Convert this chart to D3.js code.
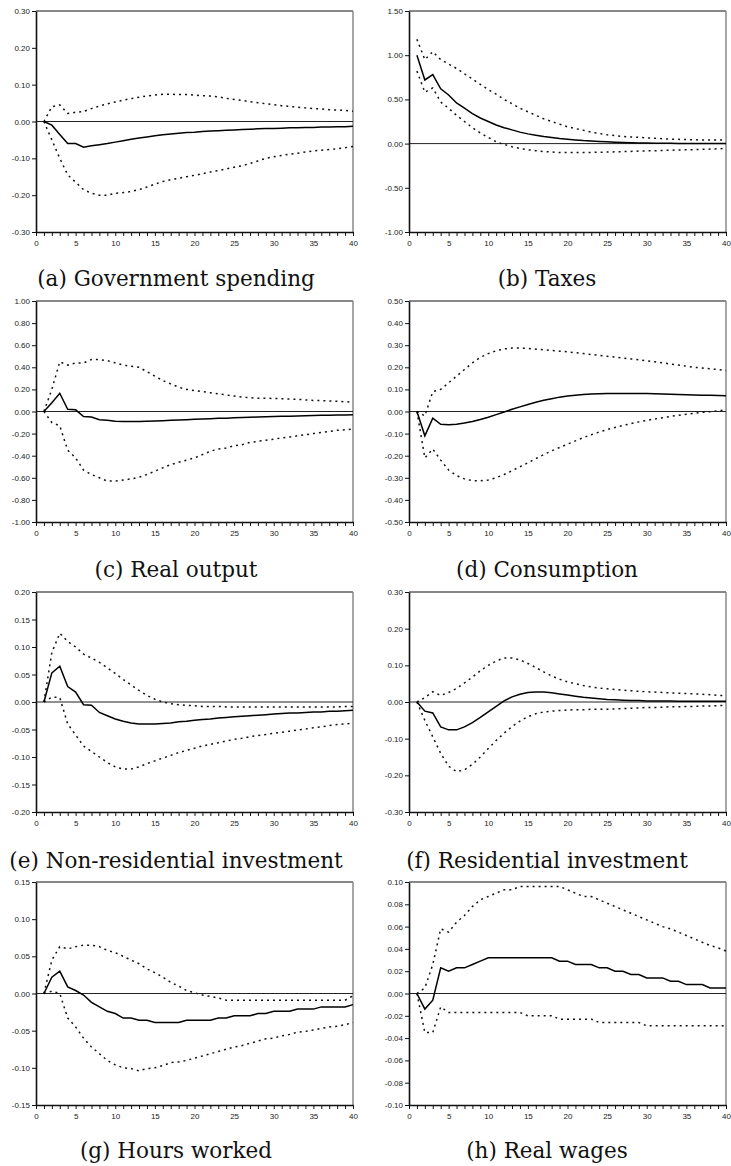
<!DOCTYPE html>
<html>
<head>
<meta charset="utf-8">
<script src="https://cdn.jsdelivr.net/npm/d3@7"></script>
<style>
  body { margin: 0; background: #fff; }
  svg { display: block; }
  .tick text { font-family: "Liberation Sans", Arial, sans-serif; font-size: 8px; fill: #222; }
  .panel-title { font-family: "DejaVu Serif", serif; font-size: 21.5px; fill: #111; }
</style>
</head>
<body>
<svg id="chart" width="731" height="1166"></svg>
<script>
'use strict';

var periods = [1, 2, 3, 4, 5, 6, 7, 8, 9, 10, 11, 12, 13, 14, 15, 16, 17, 18, 19, 20,
  21, 22, 23, 24, 25, 26, 27, 28, 29, 30, 31, 32, 33, 34, 35, 36, 37, 38, 39, 40];

// (a) Government spending
var govMid = [0, -0.01, -0.035, -0.06, -0.06, -0.07, -0.066, -0.063, -0.06, -0.056, -0.052, -0.048, -0.045, -0.042, -0.039, -0.036, -0.034, -0.032, -0.030, -0.029,
  -0.027, -0.026, -0.025, -0.024, -0.023, -0.022, -0.021, -0.020, -0.019, -0.019, -0.018, -0.017, -0.017, -0.016, -0.016, -0.015, -0.015, -0.014, -0.014, -0.013];
var govHi = [0, 0.04, 0.045, 0.022, 0.025, 0.027, 0.035, 0.042, 0.048, 0.053, 0.058, 0.062, 0.066, 0.069, 0.072, 0.074, 0.074, 0.073, 0.073, 0.072,
  0.070, 0.069, 0.067, 0.063, 0.060, 0.057, 0.054, 0.051, 0.048, 0.046, 0.043, 0.041, 0.039, 0.037, 0.035, 0.034, 0.032, 0.031, 0.030, 0.028];
var govLo = [0, -0.05, -0.10, -0.145, -0.165, -0.185, -0.195, -0.20, -0.20, -0.195, -0.193, -0.19, -0.185, -0.178, -0.17, -0.163, -0.158, -0.154, -0.15, -0.146,
  -0.142, -0.137, -0.133, -0.129, -0.124, -0.12, -0.114, -0.107, -0.10, -0.096, -0.092, -0.089, -0.086, -0.083, -0.08, -0.078, -0.076, -0.074, -0.071, -0.068];

// (b) Taxes
var taxMid = [1.00, 0.72, 0.78, 0.62, 0.55, 0.46, 0.40, 0.34, 0.29, 0.25, 0.21, 0.18, 0.155, 0.13, 0.11, 0.095, 0.08, 0.068, 0.058, 0.05,
  0.042, 0.035, 0.03, 0.025, 0.02, 0.016, 0.013, 0.01, 0.008, 0.006, 0.005, 0.004, 0.003, 0.002, 0.002, 0.001, 0.001, 0.001, 0, 0];
var taxHi = [1.18, 0.95, 1.04, 0.95, 0.90, 0.85, 0.79, 0.73, 0.67, 0.61, 0.56, 0.50, 0.45, 0.40, 0.36, 0.32, 0.28, 0.25, 0.22, 0.19,
  0.17, 0.15, 0.13, 0.115, 0.10, 0.09, 0.08, 0.075, 0.07, 0.065, 0.06, 0.055, 0.05, 0.048, 0.045, 0.043, 0.04, 0.04, 0.04, 0.04];
var taxLo = [0.82, 0.58, 0.63, 0.47, 0.40, 0.32, 0.25, 0.18, 0.12, 0.07, 0.02, -0.01, -0.035, -0.055, -0.07, -0.08, -0.09, -0.095, -0.10, -0.10,
  -0.10, -0.10, -0.10, -0.098, -0.095, -0.093, -0.09, -0.088, -0.085, -0.082, -0.08, -0.078, -0.075, -0.072, -0.07, -0.068, -0.065, -0.062, -0.058, -0.055];

// (c) Real output
var outMid = [0, 0.08, 0.165, 0.02, 0.015, -0.045, -0.05, -0.075, -0.08, -0.088, -0.09, -0.09, -0.09, -0.088, -0.085, -0.083, -0.08, -0.077, -0.074, -0.071,
  -0.068, -0.065, -0.062, -0.06, -0.057, -0.055, -0.053, -0.05, -0.048, -0.046, -0.044, -0.042, -0.04, -0.038, -0.036, -0.035, -0.033, -0.032, -0.031, -0.03];
var outHi = [0, 0.20, 0.45, 0.42, 0.44, 0.44, 0.47, 0.47, 0.46, 0.44, 0.42, 0.41, 0.40, 0.36, 0.32, 0.28, 0.25, 0.22, 0.20, 0.19,
  0.18, 0.17, 0.16, 0.15, 0.14, 0.13, 0.125, 0.12, 0.12, 0.118, 0.115, 0.112, 0.11, 0.105, 0.10, 0.098, 0.095, 0.092, 0.088, 0.085];
var outLo = [0, -0.10, -0.13, -0.35, -0.42, -0.53, -0.57, -0.60, -0.63, -0.63, -0.62, -0.61, -0.595, -0.57, -0.54, -0.51, -0.48, -0.46, -0.44, -0.42,
  -0.39, -0.36, -0.34, -0.33, -0.31, -0.30, -0.28, -0.27, -0.26, -0.25, -0.24, -0.23, -0.22, -0.21, -0.20, -0.19, -0.18, -0.17, -0.165, -0.16];

// (d) Consumption
var conMid = [0, -0.11, -0.03, -0.058, -0.06, -0.058, -0.052, -0.045, -0.036, -0.026, -0.014, -0.002, 0.01, 0.021, 0.032, 0.042, 0.051, 0.058, 0.065, 0.07,
  0.074, 0.077, 0.079, 0.08, 0.081, 0.082, 0.082, 0.082, 0.081, 0.081, 0.08, 0.079, 0.078, 0.077, 0.076, 0.075, 0.074, 0.073, 0.072, 0.071];
var conHi = [0, -0.02, 0.09, 0.10, 0.13, 0.16, 0.19, 0.22, 0.245, 0.262, 0.275, 0.283, 0.287, 0.287, 0.285, 0.282, 0.279, 0.276, 0.273, 0.27,
  0.266, 0.262, 0.258, 0.254, 0.25, 0.246, 0.242, 0.238, 0.234, 0.229, 0.225, 0.22, 0.215, 0.21, 0.205, 0.20, 0.197, 0.193, 0.19, 0.186];
var conLo = [0, -0.21, -0.17, -0.22, -0.265, -0.29, -0.305, -0.313, -0.313, -0.31, -0.30, -0.285, -0.268, -0.25, -0.232, -0.213, -0.195, -0.178, -0.163, -0.148,
  -0.133, -0.118, -0.105, -0.093, -0.082, -0.072, -0.063, -0.055, -0.047, -0.04, -0.034, -0.028, -0.022, -0.017, -0.012, -0.008, -0.004, -0.001, 0.003, 0.007];

// (e) Non-residential investment
var nriMid = [0, 0.053, 0.065, 0.028, 0.018, -0.005, -0.006, -0.019, -0.025, -0.031, -0.035, -0.038, -0.04, -0.04, -0.04, -0.039, -0.038, -0.036, -0.035, -0.033,
  -0.032, -0.031, -0.029, -0.028, -0.027, -0.026, -0.025, -0.024, -0.023, -0.022, -0.021, -0.020, -0.020, -0.019, -0.018, -0.018, -0.017, -0.017, -0.016, -0.015];
var nriHi = [0, 0.09, 0.125, 0.11, 0.10, 0.087, 0.08, 0.072, 0.062, 0.052, 0.041, 0.031, 0.021, 0.012, 0.005, 0.0, -0.003, -0.005, -0.006, -0.007,
  -0.008, -0.008, -0.008, -0.009, -0.009, -0.009, -0.009, -0.009, -0.009, -0.009, -0.009, -0.009, -0.009, -0.009, -0.009, -0.009, -0.009, -0.009, -0.008, -0.008];
var nriLo = [0, 0.009, 0.008, -0.04, -0.06, -0.08, -0.09, -0.10, -0.11, -0.118, -0.122, -0.122, -0.118, -0.112, -0.107, -0.102, -0.097, -0.092, -0.088, -0.084,
  -0.08, -0.077, -0.074, -0.071, -0.068, -0.066, -0.063, -0.061, -0.059, -0.057, -0.055, -0.053, -0.051, -0.049, -0.047, -0.045, -0.043, -0.041, -0.04, -0.038];

// (f) Residential investment
var resMid = [0, -0.025, -0.03, -0.068, -0.076, -0.076, -0.068, -0.056, -0.042, -0.027, -0.012, 0.003, 0.014, 0.021, 0.026, 0.027, 0.027, 0.025, 0.022, 0.019,
  0.016, 0.013, 0.011, 0.009, 0.007, 0.006, 0.005, 0.004, 0.004, 0.003, 0.003, 0.003, 0.003, 0.002, 0.002, 0.002, 0.002, 0.002, 0.002, 0.002];
var resHi = [0, 0.012, 0.028, 0.018, 0.026, 0.037, 0.052, 0.068, 0.085, 0.10, 0.112, 0.12, 0.12, 0.115, 0.105, 0.094, 0.082, 0.071, 0.062, 0.055,
  0.05, 0.045, 0.041, 0.038, 0.036, 0.034, 0.032, 0.031, 0.029, 0.028, 0.027, 0.026, 0.025, 0.024, 0.023, 0.022, 0.021, 0.02, 0.018, 0.017];
var resLo = [0, -0.05, -0.095, -0.14, -0.175, -0.19, -0.185, -0.17, -0.15, -0.127, -0.105, -0.085, -0.067, -0.052, -0.04, -0.032, -0.027, -0.025, -0.023, -0.022,
  -0.021, -0.021, -0.02, -0.02, -0.02, -0.019, -0.018, -0.017, -0.016, -0.015, -0.015, -0.014, -0.013, -0.013, -0.012, -0.012, -0.011, -0.011, -0.01, -0.009];

// (g) Hours worked
var hrsMid = [0, 0.022, 0.03, 0.009, 0.004, -0.002, -0.012, -0.018, -0.024, -0.027, -0.033, -0.033, -0.036, -0.036, -0.039, -0.039, -0.039, -0.039, -0.036, -0.036,
  -0.036, -0.036, -0.033, -0.033, -0.030, -0.030, -0.030, -0.027, -0.027, -0.024, -0.024, -0.024, -0.021, -0.021, -0.021, -0.018, -0.018, -0.018, -0.018, -0.015];
var hrsHi = [0, 0.045, 0.063, 0.06, 0.063, 0.065, 0.065, 0.063, 0.058, 0.055, 0.05, 0.045, 0.04, 0.033, 0.028, 0.022, 0.015, 0.01, 0.004, 0.001,
  -0.002, -0.004, -0.006, -0.009, -0.009, -0.009, -0.009, -0.009, -0.009, -0.009, -0.009, -0.009, -0.009, -0.009, -0.009, -0.009, -0.009, -0.009, -0.009, -0.003];
var hrsLo = [0, 0.003, 0.0, -0.033, -0.045, -0.06, -0.072, -0.081, -0.09, -0.096, -0.10, -0.101, -0.104, -0.101, -0.10, -0.097, -0.093, -0.092, -0.09, -0.087,
  -0.084, -0.081, -0.078, -0.075, -0.072, -0.07, -0.067, -0.064, -0.061, -0.06, -0.057, -0.055, -0.052, -0.051, -0.049, -0.047, -0.045, -0.044, -0.042, -0.039];

// (h) Real wages
var wagMid = [0, -0.014, -0.006, 0.023, 0.020, 0.023, 0.023, 0.026, 0.029, 0.032, 0.032, 0.032, 0.032, 0.032, 0.032, 0.032, 0.032, 0.032, 0.029, 0.029,
  0.026, 0.026, 0.026, 0.023, 0.023, 0.020, 0.020, 0.017, 0.017, 0.014, 0.014, 0.014, 0.011, 0.011, 0.008, 0.008, 0.008, 0.005, 0.005, 0.005];
var wagHi = [0, 0.005, 0.026, 0.058, 0.055, 0.064, 0.07, 0.078, 0.084, 0.087, 0.09, 0.093, 0.093, 0.096, 0.096, 0.096, 0.096, 0.096, 0.096, 0.093,
  0.09, 0.087, 0.087, 0.084, 0.081, 0.078, 0.075, 0.072, 0.069, 0.066, 0.063, 0.06, 0.058, 0.055, 0.052, 0.049, 0.046, 0.043, 0.041, 0.038];
var wagLo = [0, -0.035, -0.035, -0.012, -0.017, -0.017, -0.017, -0.017, -0.017, -0.017, -0.017, -0.017, -0.017, -0.017, -0.020, -0.020, -0.020, -0.020, -0.023, -0.023,
  -0.023, -0.023, -0.023, -0.026, -0.026, -0.026, -0.026, -0.026, -0.026, -0.029, -0.029, -0.029, -0.029, -0.029, -0.029, -0.029, -0.029, -0.029, -0.029, -0.029];

var titles = ['(a) Government spending', '(b) Taxes', '(c) Real output', '(d) Consumption',
  '(e) Non-residential investment', '(f) Residential investment', '(g) Hours worked', '(h) Real wages'];
var yTicks = [
  [-0.30, -0.20, -0.10, 0.00, 0.10, 0.20, 0.30],
  [-1.00, -0.50, 0.00, 0.50, 1.00, 1.50],
  [-1.00, -0.80, -0.60, -0.40, -0.20, 0.00, 0.20, 0.40, 0.60, 0.80, 1.00],
  [-0.50, -0.40, -0.30, -0.20, -0.10, 0.00, 0.10, 0.20, 0.30, 0.40, 0.50],
  [-0.20, -0.15, -0.10, -0.05, 0.00, 0.05, 0.10, 0.15, 0.20],
  [-0.30, -0.20, -0.10, 0.00, 0.10, 0.20, 0.30],
  [-0.15, -0.10, -0.05, 0.00, 0.05, 0.10, 0.15],
  [-0.10, -0.08, -0.06, -0.04, -0.02, 0.00, 0.02, 0.04, 0.06, 0.08, 0.10]
];
var xTicks = [0, 1, 2, 3, 4, 5, 6, 7, 8, 9, 10, 11, 12, 13, 14, 15, 16, 17, 18, 19, 20,
  21, 22, 23, 24, 25, 26, 27, 28, 29, 30, 31, 32, 33, 34, 35, 36, 37, 38, 39, 40];
var seriesMid = [govMid, taxMid, outMid, conMid, nriMid, resMid, hrsMid, wagMid];
var seriesHi = [govHi, taxHi, outHi, conHi, nriHi, resHi, hrsHi, wagHi];
var seriesLo = [govLo, taxLo, outLo, conLo, nriLo, resLo, hrsLo, wagLo];

// layout (pixels)
var colLeft = [36, 409], colRight = [353, 726], colCenter = [176, 547];
var rowTop = [11, 301, 592, 882], rowBottom = [232, 522, 812, 1105];
var titleBase = [286, 577, 868, 1158];

var svg = d3.select('#chart');
var fmtY = function (d) { return d3.format('.2f')(d).replace('\u2212', '-'); };

titles.forEach(function (title, i) {
  var col = i % 2, row = Math.floor(i / 2);
  var ticks = yTicks[i];
  var x = d3.scaleLinear().domain([0, 40]).range([colLeft[col], colRight[col]]);
  var y = d3.scaleLinear().domain([ticks[0], ticks[ticks.length - 1]]).range([rowBottom[row], rowTop[row]]);
  var g = svg.append('g');

  // frame: top + right
  g.append('line')
    .attr('x1', x(0)).attr('x2', x(40)).attr('y1', y.range()[1]).attr('y2', y.range()[1])
    .attr('stroke', '#111').attr('stroke-width', 1);
  g.append('line')
    .attr('x1', x(40)).attr('x2', x(40)).attr('y1', y.range()[1]).attr('y2', y.range()[0])
    .attr('stroke', '#888').attr('stroke-width', 1.5);

  // zero line
  g.append('line')
    .attr('x1', x(0)).attr('x2', x(40)).attr('y1', y(0)).attr('y2', y(0))
    .attr('stroke', '#222').attr('stroke-width', 1);

  var line = d3.line()
    .x(function (d, j) { return x(periods[j]); })
    .y(function (d) { return y(d); });

  [seriesHi[i], seriesLo[i]].forEach(function (s) {
    g.append('path')
      .attr('d', line(s))
      .attr('fill', 'none')
      .attr('stroke', '#111')
      .attr('stroke-width', 1.5)
      .attr('stroke-dasharray', '2,4');
  });
  g.append('path')
    .attr('d', line(seriesMid[i]))
    .attr('fill', 'none')
    .attr('stroke', '#000')
    .attr('stroke-width', 1.5);

  var yAxis = g.append('g')
    .attr('transform', 'translate(' + x(0) + ',0)')
    .call(d3.axisLeft(y).tickValues(ticks).tickSize(4).tickSizeOuter(0).tickPadding(2).tickFormat(fmtY));
  var xAxis = g.append('g')
    .attr('transform', 'translate(0,' + y.range()[0] + ')')
    .call(d3.axisBottom(x).tickValues(xTicks).tickSize(4).tickSizeOuter(0).tickPadding(4)
      .tickFormat(function (d) { return d % 5 === 0 ? d : ''; }));
  [yAxis, xAxis].forEach(function (a) {
    a.select('.domain').attr('stroke', '#111').attr('stroke-width', 1.6);
    a.selectAll('.tick line').attr('stroke', '#111').attr('stroke-width', 1);
    a.selectAll('text').attr('font-family', null).attr('font-size', null);
  });

  svg.append('text')
    .attr('class', 'panel-title')
    .attr('x', colCenter[col])
    .attr('y', titleBase[row])
    .attr('text-anchor', 'middle')
    .text(title);
});
</script>
</body>
</html>
